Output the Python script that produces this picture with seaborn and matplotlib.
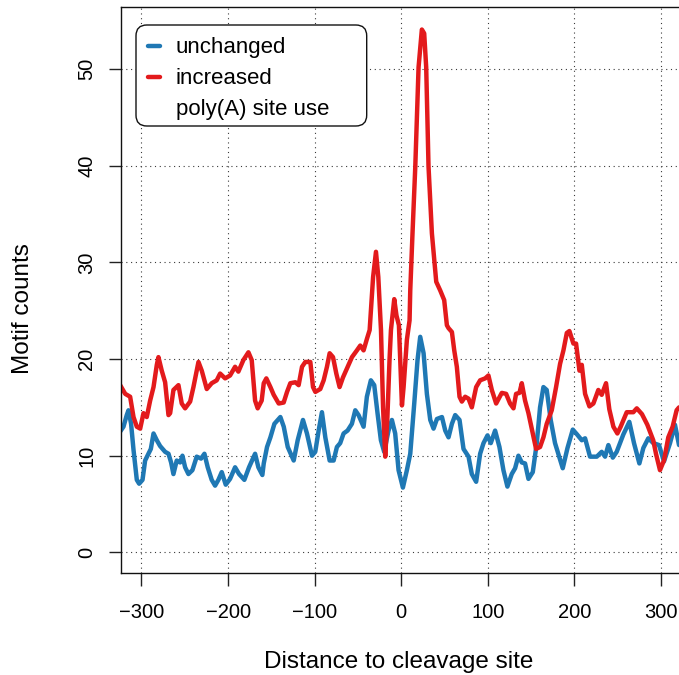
import numpy as np
import pandas as pd
import matplotlib
matplotlib.use("Agg")
import matplotlib.pyplot as plt
from matplotlib.lines import Line2D
from matplotlib.patches import FancyBboxPatch
import seaborn as sns

# ---- data ----
unchanged_x = [-324.6, -320.8, -317.0, -315.0, -312.0, -309.2, -305.4, -302.7, -298.8, -295.8,
               -291.9, -289.2, -286.1, -282.3, -278.5, -272.7, -268.8, -265.8, -263.1, -259.3,
               -255.4, -252.7, -249.6, -245.8, -241.2, -236.2, -231.2, -227.3, -223.5, -218.9,
               -215.0, -211.2, -207.3, -202.7, -197.7, -191.9, -187.3, -181.2, -175.8, -168.8,
               -165.0, -160.4, -158.8, -155.0, -151.1, -146.5, -139.6, -135.7, -131.1, -124.2,
               -119.6, -113.5, -108.9, -103.1, -99.3, -95.4, -91.6, -87.7, -82.7, -78.1,
               -74.3, -70.5, -66.6, -62.0, -57.0, -53.1, -49.3, -43.5, -39.7, -35.1,
               -31.2, -27.4, -23.5, -19.7, -14.7, -10.8, -7.0, -3.1, 1.9, 6.5,
               10.4, 15.0, 18.8, 21.9, 25.8, 29.6, 33.5, 37.3, 41.2, 47.0,
               50.8, 54.6, 58.5, 62.3, 67.3, 71.9, 77.7, 81.5, 86.5, 91.1,
               95.0, 99.6, 103.4, 108.4, 113.4, 118.0, 122.6, 127.6, 131.5, 135.3,
               139.2, 143.0, 146.9, 151.9, 156.5, 160.3, 164.2, 168.0, 172.6, 177.6,
               181.4, 186.5, 192.0, 198.1, 203.0, 208.5, 212.3, 218.0, 225.8, 231.5,
               235.4, 239.2, 244.3, 248.8, 256.5, 263.4, 268.8, 275.0, 279.6, 285.3,
               291.1, 297.7, 303.4, 310.4, 316.1, 320.8]
unchanged_y = [12.5, 13.0, 14.2, 14.7, 13.3, 10.6, 7.5, 7.1, 7.5, 9.5,
               10.2, 10.7, 12.3, 11.6, 11.0, 10.4, 10.2, 9.3, 8.1, 9.5,
               9.3, 10.0, 8.8, 8.1, 8.5, 9.9, 9.7, 10.2, 8.8, 7.5,
               6.9, 7.5, 8.3, 7.0, 7.6, 8.8, 8.1, 7.5, 8.8, 10.2,
               8.8, 8.0, 9.2, 10.9, 11.9, 13.3, 14.0, 13.0, 10.9, 9.5,
               11.6, 13.7, 12.3, 10.0, 10.4, 12.6, 14.5, 11.9, 9.5, 9.5,
               10.9, 11.3, 12.3, 12.6, 13.3, 14.7, 14.2, 13.0, 16.1, 17.8,
               17.3, 14.4, 11.6, 10.4, 12.6, 13.7, 12.3, 8.5, 6.7, 8.5,
               10.2, 15.4, 19.9, 22.3, 20.6, 16.4, 13.7, 12.8, 13.8, 14.0,
               12.6, 11.9, 13.3, 14.2, 13.7, 10.7, 9.9, 8.1, 7.3, 10.2,
               11.3, 12.1, 11.3, 12.6, 10.9, 8.5, 6.8, 8.1, 8.7, 10.0,
               9.3, 9.2, 7.6, 8.3, 11.3, 15.0, 17.1, 16.8, 13.7, 11.3,
               10.2, 8.7, 10.8, 12.7, 12.2, 11.6, 11.8, 9.9, 9.9, 10.4,
               9.9, 11.1, 9.8, 10.4, 12.2, 13.5, 11.3, 9.2, 10.8, 11.8,
               11.3, 11.1, 9.4, 11.3, 13.2, 11.1]

increased_x = [-324.6, -318.8, -313.1, -309.2, -305.4, -301.5, -297.7, -293.9, -290.0, -286.1,
               -282.3, -280.4, -276.6, -272.7, -268.8, -266.9, -263.1, -257.3, -253.5, -249.6,
               -243.8, -240.0, -234.2, -230.4, -224.6, -218.9, -213.1, -209.2, -203.4, -197.7,
               -191.9, -188.1, -182.3, -176.5, -172.7, -168.8, -165.8, -161.2, -158.8, -155.8,
               -151.1, -147.3, -141.5, -135.8, -131.9, -128.1, -122.3, -118.5, -114.6, -110.8,
               -105.0, -101.9, -99.2, -93.5, -89.6, -85.8, -82.7, -78.8, -75.0, -71.2,
               -67.3, -61.9, -56.9, -51.2, -47.3, -43.5, -39.6, -36.5, -32.5, -29.2,
               -26.5, -23.4, -21.0, -18.5, -16.0, -13.5, -11.9, -8.1, -5.5, -2.7,
               0.8, 2.7, 6.5, 9.6, 10.4, 13.0, 16.2, 20.0, 23.8, 26.5,
               28.8, 31.5, 35.4, 40.4, 45.0, 49.6, 52.7, 54.6, 58.5, 61.2,
               64.2, 67.3, 70.0, 73.8, 77.7, 81.5, 86.5, 91.1, 96.9, 100.7,
               104.6, 109.6, 116.1, 121.1, 125.7, 129.6, 132.6, 136.5, 139.2, 143.0,
               146.9, 151.9, 155.7, 160.3, 164.2, 168.0, 173.8, 178.8, 183.4, 187.3,
               191.2, 194.2, 198.8, 201.9, 205.8, 208.5, 212.3, 217.3, 221.9, 227.6,
               231.5, 236.5, 240.3, 245.0, 249.6, 253.4, 260.4, 268.0, 272.0, 278.0,
               284.2, 291.0, 294.2, 298.8, 303.4, 308.4, 313.4, 318.0, 320.8]
increased_y = [17.3, 16.4, 16.1, 14.0, 13.0, 12.8, 14.4, 14.0, 15.7, 17.1,
               19.4, 20.2, 18.8, 17.6, 14.2, 14.4, 16.8, 17.3, 15.4, 14.9,
               15.6, 17.1, 19.7, 18.8, 16.9, 17.5, 17.8, 18.5, 18.0, 18.3,
               19.2, 18.7, 19.9, 20.7, 19.9, 15.7, 14.9, 15.7, 17.5, 18.0,
               17.1, 16.3, 15.4, 15.5, 16.6, 17.5, 17.6, 17.3, 19.2, 19.7,
               19.7, 17.1, 16.6, 16.9, 17.8, 19.2, 20.6, 20.2, 18.5, 17.1,
               18.1, 19.2, 20.2, 20.9, 21.4, 20.9, 22.1, 23.0, 28.5, 31.1,
               28.5, 23.0, 15.0, 9.9, 14.0, 20.0, 23.0, 26.2, 24.5, 23.5,
               15.2, 17.1, 22.0, 24.0, 27.1, 33.0, 39.9, 50.2, 54.1, 53.7,
               50.2, 39.9, 33.0, 28.0, 27.1, 26.1, 23.5, 23.2, 22.8, 20.9,
               19.2, 16.1, 15.6, 16.1, 15.9, 15.0, 17.1, 17.8, 18.0, 18.3,
               16.8, 15.4, 16.5, 16.4, 15.4, 14.9, 16.4, 16.5, 17.5, 15.7,
               14.4, 12.3, 10.7, 10.9, 11.9, 13.3, 14.7, 17.1, 19.5, 20.9,
               22.7, 22.9, 21.6, 21.6, 18.8, 19.4, 16.4, 15.1, 15.4, 16.8,
               16.3, 17.5, 14.8, 13.0, 12.3, 13.0, 14.5, 14.5, 14.9, 14.3,
               13.2, 11.6, 10.2, 8.5, 9.5, 11.9, 13.0, 14.7, 15.0]

labels = ["unchanged", "increased"]
legend_labels = ["unchanged", "increased", "poly(A) site use"]
colors = {"unchanged": "#1f78b4", "increased": "#e31a1c"}
xticks = [-300, -200, -100, 0, 100, 200, 300]
yticks = [0, 10, 20, 30, 40, 50]

df = pd.concat([
    pd.DataFrame({"x": unchanged_x, "y": unchanged_y, "group": "unchanged"}),
    pd.DataFrame({"x": increased_x, "y": increased_y, "group": "increased"}),
], ignore_index=True)

# ---- style ----
sns.set_style("ticks")
plt.rcParams["font.family"] = ["Liberation Sans", "DejaVu Sans"]
plt.rcParams["text.color"] = "black"
plt.rcParams["axes.labelcolor"] = "black"
plt.rcParams["xtick.color"] = "black"
plt.rcParams["ytick.color"] = "black"

W, H = 679, 675
fig = plt.figure(figsize=(W / 100, H / 100), dpi=100)
ax = fig.add_axes([120.7 / W, 1 - 573.3 / H, (681.8 - 120.7) / W, (573.3 - 7.3) / H])

# grid
for xv in xticks:
    ax.axvline(xv, color="#3a3a3a", lw=0.8, ls=(0, (1, 3.3)), zorder=0)
for yv in yticks:
    ax.axhline(yv, color="#3a3a3a", lw=0.8, ls=(0, (1, 3.3)), zorder=0)

sns.lineplot(data=df, x="x", y="y", hue="group", hue_order=labels, palette=colors,
             estimator=None, sort=True, lw=3.2, legend=False, ax=ax, zorder=2)
for ln in ax.get_lines():
    ln.set_solid_capstyle("round")
    ln.set_solid_joinstyle("round")

ax.set_xlim(-324, 324)
ax.set_ylim(-2.17, 56.4)
ax.set_xticks(xticks)
ax.set_yticks(yticks)
ax.set_xlabel("")
ax.set_ylabel("")
ax.tick_params(axis="x", length=9, width=1.0, pad=12.5, labelsize=14.5, color="#222222",
               labelcolor="black")
ax.tick_params(axis="y", length=9, width=1.0, pad=8.5, labelsize=14.5, color="#222222",
               labelcolor="black")
for lab in ax.get_yticklabels():
    lab.set_rotation(90)
    lab.set_va("center")
for sp in ["left", "bottom", "top", "right"]:
    ax.spines[sp].set_linewidth(1.0)
    ax.spines[sp].set_color("#111111")

fig.text(398.5 / W, 1 - 668 / H, "Distance to cleavage site", ha="center", va="baseline",
         fontsize=17.5, color="black")
fig.text(23.3 / W, 1 - 308.3 / H, "Motif counts", ha="center", va="center", rotation=90,
         fontsize=17.5, color="black")

# legend box (rounded, white) and entries
box = FancyBboxPatch((136 / W, 1 - 126 / H), (366.7 - 136) / W, (126 - 25) / H,
                     boxstyle="round,pad=0,rounding_size=0.016", transform=fig.transFigure,
                     facecolor="white", edgecolor="#111111", lw=1.0, zorder=5)
fig.add_artist(box)

handles = [Line2D([], [], color=colors["unchanged"], lw=3.2, solid_capstyle="round"),
           Line2D([], [], color=colors["increased"], lw=3.2, solid_capstyle="round"),
           Line2D([], [], color="none", lw=0)]
leg = fig.legend(handles, legend_labels, loc="upper left",
                 bbox_to_anchor=(148 / W, 1 - 37.5 / H), bbox_transform=fig.transFigure,
                 frameon=False, fontsize=16, handlelength=0.55, handletextpad=0.7,
                 labelspacing=0.44, borderpad=0, borderaxespad=0)
for t in leg.get_texts():
    t.set_color("black")
leg.set_zorder(6)

fig.savefig("out.png", dpi=100)
